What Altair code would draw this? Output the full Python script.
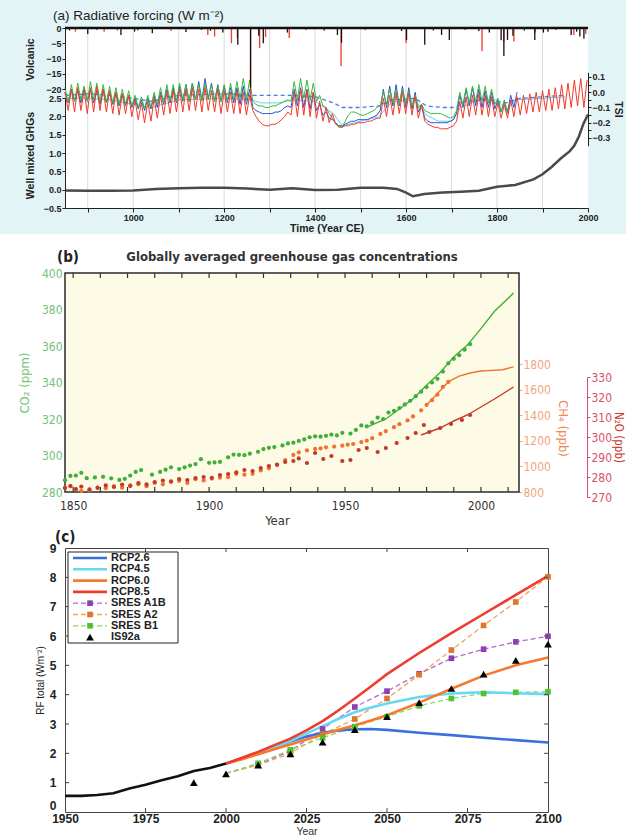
import altair as alt
import pandas as pd

# ======================= DATA =======================
# ---- Panel (a): radiative forcing ----
TSI_YEARS = list(range(850, 1999, 7))
TSI_RED = [0.00, -0.12, 0.02, -0.13, 0.03, -0.12, 0.01, -0.14, 0.03, -0.13, 0.04, -0.12, 0.02, -0.13, 0.01, -0.14, 0.00, -0.15, -0.01, -0.14, -0.02, -0.16,
           -0.05, -0.18, -0.07, -0.20, -0.06, -0.19, -0.04,
           -0.17, -0.02, -0.15, 0.00, -0.14, 0.01, -0.13, 0.02, -0.13, 0.02, -0.12, 0.03, -0.12, 0.02, -0.13, 0.03, -0.12, 0.01, -0.13, 0.02, -0.14, 0.01, -0.13, 0.00, -0.14, 0.01, -0.14, 0.00, -0.15, -0.02,
           -0.12, -0.16, -0.19, -0.21, -0.22, -0.22, -0.21, -0.21, -0.20, -0.18, -0.16, -0.13,
           -0.15, 0.00, -0.16, 0.02, -0.15, 0.01, -0.16, 0.00, -0.17,
           -0.06, -0.19, -0.10, -0.20, -0.14, -0.21,
           -0.22, -0.23, -0.22, -0.22, -0.21, -0.21, -0.20, -0.20, -0.20, -0.19, -0.19, -0.18, -0.17,
           -0.17, -0.04, -0.16, -0.02, -0.15, -0.01, -0.14, 0.00, -0.14, -0.01, -0.15, -0.03, -0.17, -0.08,
           -0.19, -0.21, -0.22, -0.23, -0.23, -0.24, -0.24, -0.24, -0.23, -0.22, -0.19,
           -0.06, -0.17, -0.03, -0.16, -0.02, -0.15, -0.01, -0.15, -0.02, -0.16, -0.03, -0.16,
           -0.07, -0.17, -0.08, -0.17, -0.05,
           -0.16, -0.03, -0.15, -0.02, -0.14, -0.01, -0.13, 0.00, -0.13, 0.01,
           -0.12, 0.02, -0.12, 0.03, -0.11, 0.05, -0.11, 0.06, -0.10, 0.08, -0.09, 0.09, -0.10, 0.08]
TSI_GREEN = [0.03, -0.07, 0.05, -0.06, 0.06, -0.05, 0.04, -0.06, 0.07, -0.05, 0.06, -0.06, 0.05, -0.07, 0.04, -0.07, 0.03, -0.08, 0.02, -0.08, 0.01, -0.09,
             -0.02, -0.10, -0.03, -0.11, -0.02, -0.10, 0.00,
             -0.08, 0.03, -0.07, 0.05, -0.06, 0.05, -0.06, 0.06, -0.05, 0.05, -0.06, 0.06, -0.05, 0.05, -0.06, 0.06, -0.05, 0.05, -0.06, 0.04, -0.06, 0.05, -0.06, 0.06, -0.05, 0.07, -0.04, 0.09, -0.05, 0.08,
             -0.06, -0.08, -0.09, -0.09, -0.10, -0.10, -0.09, -0.09, -0.08, -0.07, -0.06, -0.05,
             -0.06, 0.07, -0.05, 0.09, -0.04, 0.08, -0.05, 0.06, -0.06,
             -0.02, -0.09, -0.10, -0.14, -0.17, -0.20,
             -0.23, -0.23, -0.19, -0.15, -0.13, -0.13, -0.14, -0.15, -0.15, -0.14, -0.13, -0.12, -0.10,
             -0.09, 0.00, -0.08, 0.02, -0.07, 0.01, -0.08, 0.02, -0.07, 0.00, -0.09, -0.02, -0.10, -0.08,
             -0.12, -0.13, -0.14, -0.14, -0.14, -0.14, -0.15, -0.16, -0.17, -0.16, -0.12,
             0.00, -0.08, 0.03, -0.07, 0.04, -0.06, 0.05, -0.06, 0.04, -0.07, 0.02, -0.08,
             -0.04, -0.13, -0.05, -0.14, -0.06]
TSI_BLUE = [0.00, -0.07, 0.02, -0.06, 0.01, -0.07, 0.03, -0.06, 0.02, -0.07, 0.01, -0.08, 0.02, -0.07, 0.00, -0.08, 0.00, -0.09, -0.01, -0.09, -0.02, -0.10,
            -0.04, -0.11, -0.05, -0.12, -0.04, -0.11, -0.02,
            -0.10, 0.00, -0.08, 0.02, -0.07, 0.03, -0.07, 0.04, -0.06, 0.05, -0.06, 0.06, -0.05, 0.07, -0.05, 0.09, -0.04, 0.06, -0.06, 0.05, -0.06, 0.04, -0.07, 0.03, -0.07, 0.03, -0.08, 0.04, -0.08, 0.02,
            -0.10, -0.12, -0.13, -0.14, -0.14, -0.14, -0.14, -0.13, -0.13, -0.12, -0.10, -0.09,
            -0.10, 0.02, -0.09, 0.03, -0.10, 0.02, -0.11, 0.00, -0.12,
            -0.08, -0.15, -0.13, -0.17, -0.18, -0.20,
            -0.22, -0.22, -0.21, -0.20, -0.19, -0.19, -0.18, -0.18, -0.18, -0.18, -0.17, -0.16, -0.15,
            -0.12, 0.02, -0.10, 0.04, -0.09, 0.05, -0.09, 0.04, -0.10, 0.03, -0.11, 0.00, -0.13, -0.08,
            -0.17, -0.19, -0.20, -0.20, -0.20, -0.20, -0.20, -0.20, -0.19, -0.18, -0.14,
            -0.02, -0.10, 0.02, -0.09, 0.03, -0.09, 0.02, -0.10, 0.01, -0.10, 0.00, -0.11,
            -0.05, -0.13, -0.06, -0.13, -0.02,
            -0.10, 0.00]
TSI_CYAN_YEARS = [850, 900, 950, 1000, 1040, 1100, 1200, 1262, 1280, 1320, 1350, 1400, 1440, 1460, 1500,
                  1540, 1570, 1620, 1645, 1670, 1700, 1720, 1760, 1800, 1820, 1840, 1900, 1950]
TSI_CYAN = [-0.04, -0.04, -0.05, -0.08, -0.10, -0.05, -0.04, -0.05, -0.07, -0.07, -0.05, -0.06, -0.14, -0.22, -0.19,
            -0.16, -0.06, -0.05, -0.15, -0.19, -0.19, -0.10, -0.05, -0.05, -0.12, -0.05, -0.04, -0.03]
TSI_DASH_YEARS = [850, 900, 950, 1000, 1040, 1100, 1200, 1262, 1300, 1340, 1400, 1440, 1460, 1500, 1540,
                  1570, 1620, 1645, 1680, 1710, 1730, 1780, 1820, 1850, 1900, 1950]
TSI_DASH = [-0.02, -0.01, -0.02, -0.04, -0.06, -0.02, -0.01, -0.02, -0.02, -0.02, -0.03, -0.07, -0.10, -0.10, -0.09,
            -0.05, -0.04, -0.09, -0.10, -0.10, -0.06, -0.05, -0.07, -0.04, -0.03, -0.02]
GHG_YEARS = [850, 900, 950, 1000, 1050, 1100, 1150, 1200, 1250, 1300, 1350, 1400, 1450, 1500, 1550, 1580, 1600,
             1615, 1640, 1680, 1720, 1760, 1800, 1840, 1880, 1900, 1920, 1940, 1960, 1970, 1980, 1990, 2000]
GHG_WM2 = [-0.02, -0.03, -0.03, -0.02, 0.02, 0.04, 0.05, 0.05, 0.03, 0.00, 0.04, -0.01, 0.00, 0.05, 0.05, 0.02, -0.08,
           -0.18, -0.12, -0.08, -0.06, -0.03, 0.08, 0.13, 0.28, 0.42, 0.62, 0.85, 1.05, 1.20, 1.45, 1.80, 2.05]
VOLC_BLACK_YEARS = [860, 900, 920, 973, 1003, 1010, 1042, 1116, 1150, 1170, 1197, 1230, 1258, 1276, 1286, 1339,
                    1380, 1420, 1449, 1458, 1510, 1590, 1601, 1641, 1660, 1678, 1695, 1730, 1760, 1783, 1809,
                    1815, 1823, 1835, 1860, 1883, 1902, 1912, 1930, 1963, 1975, 1982, 1991]
VOLC_BLACK = [-0.8, -2.0, -0.6, -2.3, -1.2, -0.7, -1.7, -1.3, -0.6, -0.9, -1.5, -5.5, -19.5, -2.5, -5.0, -1.5,
              -0.6, -0.8, -2.3, -4.8, -0.6, -1.0, -3.9, -5.5, -0.8, -2.3, -3.9, -0.6, -1.0, -1.5, -4.0,
              -9.2, -3.9, -2.5, -0.8, -3.9, -1.5, -1.2, -0.6, -2.3, -1.2, -2.8, -3.5]
VOLC_RED_YEARS = [873, 936, 965, 1083, 1164, 1179, 1216, 1229, 1258, 1278, 1291, 1343, 1457, 1600, 1767,
                  1815, 1837, 1884, 1969, 1995]
VOLC_RED = [-1.2, -1.2, -0.8, -1.0, -2.3, -2.8, -5.0, -3.3, -23.5, -6.6, -3.0, -3.3, -12.5, -4.9, -7.6,
            -4.5, -4.4, -1.5, -2.3, -2.0]
A_TICKS = [900, 1000, 1100, 1200, 1300, 1400, 1500, 1600, 1700, 1800, 1900, 2000]
A_GRID = [900, 1000, 1100, 1200, 1300, 1400, 1500, 1600, 1700, 1800, 1900]

# ---- Panel (b): greenhouse gas concentrations ----
CO2_YEARS = [1847, 1849, 1851, 1853, 1855, 1858, 1861, 1864, 1867, 1869, 1871, 1873, 1875, 1879, 1882, 1884, 1886,
             1889, 1891, 1893, 1895, 1897, 1900, 1902, 1904, 1907, 1909, 1911, 1913, 1915, 1918, 1920, 1922, 1924,
             1927, 1929, 1931, 1933, 1935, 1937, 1939, 1941, 1943, 1945, 1947, 1949, 1952, 1954, 1956, 1958, 1960,
             1962, 1964, 1966, 1968, 1970, 1972, 1974, 1976, 1978, 1980, 1982, 1984, 1986, 1988, 1990, 1992, 1994, 1996]
CO2_PPM = [286.5, 288.8, 289.0, 290.5, 287.6, 288.0, 288.3, 287.5, 286.6, 287.2, 289.0, 291.0, 292.0, 289.5, 291.0,
           292.2, 293.5, 292.6, 293.5, 294.5, 295.3, 298.0, 296.0, 296.2, 296.5, 299.0, 300.5, 300.4, 300.2, 301.0,
           302.0, 303.5, 304.2, 304.6, 305.5, 306.6, 307.0, 308.0, 308.8, 310.0, 310.5, 310.3, 310.8, 311.5, 311.0,
           312.4, 312.0, 314.0, 316.5, 316.0, 318.0, 320.8, 320.0, 323.5, 324.5, 326.0, 328.0, 330.0, 332.5, 335.0,
           337.5, 340.0, 342.0, 346.0, 350.5, 353.0, 355.0, 358.0, 361.0]
CO2_LINE_YEARS = [1958, 1965, 1970, 1975, 1980, 1985, 1990, 1995, 2000, 2005, 2012]
CO2_LINE = [315.5, 320.0, 325.5, 331.0, 338.5, 345.5, 354.0, 360.5, 369.5, 379.0, 389.0]
CH4_YEARS = [1847, 1849, 1851, 1853, 1856, 1859, 1862, 1865, 1868, 1871, 1874, 1877, 1880, 1883, 1886, 1889, 1892,
             1895, 1898, 1901, 1904, 1907, 1910, 1913, 1916, 1919, 1922, 1925, 1928, 1931, 1933, 1936, 1939, 1941,
             1943, 1946, 1949, 1951, 1953, 1956, 1958, 1960, 1963, 1965, 1968, 1970, 1973, 1975, 1978, 1980, 1982,
             1984, 1986, 1988]
CH4_PPB = [834, 845, 821, 808, 813, 834, 830, 845, 834, 852, 860, 845, 871, 860, 880, 887, 871, 900, 890, 905, 912,
           916, 942, 935, 942, 968, 985, 1010, 1050, 1090, 1110, 1125, 1136, 1140, 1149, 1155, 1162, 1170, 1175, 1190,
           1201, 1220, 1254, 1275, 1306, 1330, 1359, 1390, 1438, 1480, 1517, 1560, 1622, 1660]
CH4_LINE_YEARS = [1980, 1984, 1988, 1992, 1996, 2000, 2004, 2008, 2012]
CH4_LINE = [1480, 1570, 1660, 1705, 1730, 1745, 1750, 1755, 1778]
N2O_YEARS = [1847, 1849, 1851, 1853, 1856, 1859, 1862, 1865, 1868, 1871, 1874, 1877, 1880, 1883, 1886, 1889, 1892,
             1895, 1898, 1901, 1904, 1907, 1910, 1913, 1916, 1919, 1922, 1925, 1928, 1931, 1933, 1936, 1939, 1942,
             1945, 1949, 1952, 1955, 1958, 1962, 1965, 1969, 1973, 1976, 1979, 1981, 1985, 1989, 1993, 1996]
N2O_PPB = [274.5, 275.5, 274.0, 275.2, 273.8, 274.6, 275.8, 275.0, 276.2, 275.5, 277.0, 276.3, 277.5, 278.2, 277.8,
           279.0, 278.5, 279.5, 280.0, 279.6, 281.0, 281.5, 282.3, 283.5, 283.0, 284.5, 285.5, 286.2, 287.5, 288.0,
           289.3, 287.0, 292.0, 289.0, 290.5, 288.0, 288.5, 293.5, 294.5, 292.5, 294.5, 297.0, 299.5, 302.0, 306.0,
           302.5, 304.5, 306.5, 308.5, 311.0]
N2O_LINE_YEARS = [1978, 1985, 1990, 1995, 2000, 2005, 2012]
N2O_LINE = [301.0, 304.5, 308.0, 311.0, 315.0, 319.0, 325.0]
B_TICK_YEARS = [1850, 1860, 1870, 1880, 1890, 1900, 1910, 1920, 1930, 1940, 1950, 1960, 1970, 1980, 1990, 2000, 2010]

# ---- Panel (c): total radiative forcing scenarios ----
HIST_YEARS = [1950, 1955, 1960, 1965, 1970, 1975, 1980, 1985, 1990, 1995, 2000]
HIST_RF = [0.55, 0.55, 0.58, 0.64, 0.80, 0.93, 1.08, 1.22, 1.40, 1.50, 1.65]
RCP_YEARS = [2000, 2005, 2010, 2015, 2020, 2025, 2030, 2035, 2040, 2045, 2050, 2060, 2070, 2080, 2090, 2100]
RCP26 = [1.65, 1.83, 2.00, 2.20, 2.40, 2.57, 2.70, 2.78, 2.82, 2.83, 2.80, 2.70, 2.62, 2.53, 2.45, 2.37]
RCP45 = [1.65, 1.83, 2.00, 2.20, 2.42, 2.67, 2.93, 3.18, 3.40, 3.56, 3.70, 3.92, 4.04, 4.08, 4.05, 4.02]
RCP60 = [1.65, 1.80, 1.97, 2.14, 2.30, 2.47, 2.64, 2.80, 2.96, 3.12, 3.30, 3.73, 4.20, 4.65, 5.00, 5.27]
RCP85 = [1.65, 1.85, 2.05, 2.28, 2.50, 2.78, 3.10, 3.47, 3.87, 4.28, 4.70, 5.42, 6.10, 6.75, 7.40, 8.05]
RCP_NAMES = ['RCP2.6', 'RCP4.5', 'RCP6.0', 'RCP8.5']
SRES_YEARS = [2000, 2010, 2020, 2030, 2040, 2050, 2060, 2070, 2080, 2090, 2100]
SRES_A1B = [1.32, 1.62, 2.08, 2.83, 3.58, 4.12, 4.71, 5.24, 5.55, 5.80, 5.99]
SRES_A2 = [1.32, 1.60, 2.00, 2.65, 3.17, 3.87, 4.68, 5.52, 6.36, 7.16, 8.02]
SRES_B1 = [1.32, 1.66, 2.12, 2.53, 2.91, 3.25, 3.62, 3.87, 4.04, 4.08, 4.10]
SRES_NAMES = ['SRES A1B', 'SRES A2', 'SRES B1']
IS92A_YEARS = [1990, 2000, 2010, 2020, 2030, 2040, 2050, 2060, 2070, 2080, 2090, 2100]
IS92A = [1.00, 1.30, 1.60, 1.98, 2.38, 2.81, 3.25, 3.73, 4.21, 4.70, 5.17, 5.72]
LEGEND_NAMES = ['RCP2.6', 'RCP4.5', 'RCP6.0', 'RCP8.5', 'SRES A1B', 'SRES A2', 'SRES B1', 'IS92a']
C_TICK_YEARS = [1975, 2000, 2025, 2050, 2075]
C_TICK_RF = [1, 2, 3, 4, 5, 6, 7, 8]

# ======================= STYLE =======================
FA = "'Liberation Sans', Arial, Helvetica, sans-serif"
FB = "'DejaVu Sans Condensed', 'Liberation Sans Narrow', 'Liberation Sans', sans-serif"
CYAN_BG = '#e3f4f7'
RED = '#f03a2a'
STYLE = {
    'RCP2.6': dict(color='#3b6fdc'),
    'RCP4.5': dict(color='#66d8f2'),
    'RCP6.0': dict(color='#f7792f'),
    'RCP8.5': dict(color='#f03c2e'),
    'SRES A1B': dict(color='#ad6bcc', marker='#8e3fb0'),
    'SRES A2': dict(color='#f2a35c', marker='#dc782c'),
    'SRES B1': dict(color='#8ad866', marker='#4fc230'),
}
W_A, H_A = 523, 180
W_B, H_B, TOP_B = 454, 228, 9      # panel (b) frame starts TOP_B px below its group top
W_C, H_C = 483, 264


def frame(years, vals):
    return pd.DataFrame([{'year': y, 'v': v} for y, v in zip(years, vals) if v is not None])


def one():
    return alt.Data(values=[{}])


# ======================= PANEL (a) =======================
xa_scale = alt.Scale(domain=[850, 2000], nice=False, zero=False)
xa_axis = alt.Axis(values=A_TICKS, format='d', labelExpr="datum.value % 200 == 0 ? datum.label : ''",
                   title='Time (Year CE)', titleFont=FA, titleFontSize=10.5, titleFontWeight='bold',
                   titleColor='#222', titlePadding=1, labelFont=FA, labelFontSize=9, labelFontWeight='bold',
                   labelColor='#222', labelPadding=1, labelFlush=False, tickSize=4, tickColor='#222',
                   domainColor='#222', grid=False, zindex=1)
common_a = dict(labelFont=FA, labelFontSize=9, labelFontWeight='bold', labelColor='#222', labelPadding=1,
                tickSize=3, tickColor='#222', domainColor='#222', titleFont=FA, titleFontSize=10.5,
                titleFontWeight='bold', titleColor='#222', grid=False, zindex=1)
volc_scale = alt.Scale(domain=[-20, 0], range=[61, 0], nice=False, zero=False)
volc_axis = alt.Axis(orient='left', values=[0, -5, -10, -15, -20], format='d', title='Volcanic',
                     titleX=-35, titleY=31, titleAngle=270, titleBaseline='middle', **common_a)
ghg_scale = alt.Scale(domain=[-0.5, 2.5], range=[180, 70], nice=False, zero=False)
ghg_axis = alt.Axis(orient='left', values=[-0.5, 0.0, 0.5, 1.0, 1.5, 2.0, 2.5], format='.1f',
                    title='Well mixed GHGs', titleX=-35, titleY=127, titleAngle=270, titleBaseline='middle',
                    **common_a)
tsi_scale = alt.Scale(domain=[-0.35, 0.13], range=[117.6, 44.4], nice=False, zero=False)
tsi_axis = alt.Axis(orient='right', values=[-0.3, -0.25, -0.2, -0.15, -0.1, -0.05, 0.0, 0.05, 0.1],
                    labelExpr="abs(round(datum.value*20)) % 2 == 0 ? format(datum.value, '.1f') : ''",
                    title='TSI', titlePadding=3, **common_a)


def xa():
    return alt.X('year:Q', scale=xa_scale, axis=xa_axis)


bg_a = alt.Chart(one()).mark_rect(color=CYAN_BG).encode(
    x=alt.value(-65), x2=alt.value(W_A + 38), y=alt.value(-28), y2=alt.value(H_A + 26))
white_a = alt.Chart(one()).mark_rect(color='white').encode(
    x=alt.value(0), x2=alt.value(W_A), y=alt.value(0), y2=alt.value(H_A))
grid_a = alt.Chart(pd.DataFrame({'year': A_GRID})).mark_rule(color='#dadada', strokeWidth=1).encode(x=xa())

tsi_y = alt.Y('v:Q', scale=tsi_scale, axis=tsi_axis)
tsi_defs = [
    (TSI_CYAN_YEARS, TSI_CYAN, '#5dd5f2', False),
    (TSI_DASH_YEARS, TSI_DASH, '#4a7ce6', True),
    (TSI_YEARS, TSI_BLUE, '#2e50d4', False),
    (TSI_YEARS, TSI_GREEN, '#3cb83c', False),
    (TSI_YEARS, TSI_RED, RED, False),
]
tsi_layers = []
for yrs, vals, col, dashed in tsi_defs:
    if dashed:
        m = alt.Chart(frame(yrs, vals)).mark_line(color=col, strokeWidth=1.3, strokeDash=[4, 3])
    else:
        m = alt.Chart(frame(yrs, vals)).mark_line(color=col, strokeWidth=1.0)
    tsi_layers.append(m.encode(x=xa(), y=tsi_y))
tsi = alt.layer(*tsi_layers)

ghg = alt.Chart(frame(GHG_YEARS, GHG_WM2)).mark_line(color='#4a4a4a', strokeWidth=2.5).encode(
    x=xa(), y=alt.Y('v:Q', scale=ghg_scale, axis=ghg_axis))

volc_y = alt.Y('v:Q', scale=volc_scale, axis=volc_axis)
volc_red = alt.Chart(frame(VOLC_RED_YEARS, VOLC_RED)).mark_rule(color=RED, strokeWidth=1.3).encode(
    x=xa(), y=volc_y, y2=alt.datum(0))
volc_black = alt.Chart(frame(VOLC_BLACK_YEARS, VOLC_BLACK)).mark_rule(color='#111', strokeWidth=1.3).encode(
    x=xa(), y=volc_y, y2=alt.datum(0))
volc_base = alt.Chart(one()).mark_rule(color='#111', strokeWidth=2.5).encode(
    y=alt.YDatum(0, scale=volc_scale, axis=volc_axis))
volc = alt.layer(volc_red, volc_black, volc_base)

title_a = alt.Chart(one()).mark_text(text='(a)  Radiative forcing (W m⁻²)', align='left', baseline='middle',
                                     fontSize=13.5, font=FA, color='#222').encode(
    x=alt.value(-12), y=alt.value(-12))

chart_a = alt.layer(bg_a, white_a, grid_a, tsi, ghg, volc, title_a).resolve_scale(y='independent').properties(
    width=W_A, height=H_A, view=alt.ViewBackground(strokeWidth=0))

# ======================= PANEL (b) =======================
CO2_C, CO2_LAB = '#3fae3a', '#72c276'
CH4_C, CH4_LAB, CH4_T = '#f0722e', '#f4a57c', '#f08a50'
N2O_C, N2O_LAB = '#c4392a', '#d9506a'

xb_scale = alt.Scale(domain=[1847, 2014], nice=False, zero=False)
xb_axis = alt.Axis(values=[1850, 1900, 1950, 2000], format='d', title='Year', titleX=212, titleY=28,
                   titleBaseline='middle', ticks=False, domain=False, labelFlush=False, labelFont=FB,
                   labelFontSize=12, labelColor='#333', labelPadding=8, titleFont=FB, titleFontSize=13,
                   titleFontWeight='normal', titleColor='#333', grid=False)
co2_axis = alt.Axis(orient='left', values=list(range(280, 401, 20)), format='d', title='CO₂ (ppm)',
                    ticks=False, domain=False, labelPadding=3, labelFont=FB, labelFontSize=12,
                    labelColor=CO2_LAB, titleFont=FB, titleFontSize=13, titleFontWeight='normal',
                    titleColor=CO2_LAB, titlePadding=10, grid=False)
ch4_axis = alt.Axis(orient='right', values=list(range(800, 1801, 200)), format='d', title='CH₄ (ppb)',
                    tickSize=3, tickColor=CH4_LAB, domain=False, labelPadding=1, labelFont=FB, labelFontSize=12,
                    labelColor=CH4_LAB, titleFont=FB, titleFontSize=13, titleFontWeight='normal',
                    titleColor=CH4_T, titlePadding=5, grid=False)
n2o_axis = alt.Axis(orient='right', offset=68, values=list(range(270, 331, 10)), format='d', title='N₂O (ppb)',
                    tickSize=3, tickColor=N2O_LAB, domainColor=N2O_LAB, labelPadding=1, labelFont=FB,
                    labelFontSize=12, labelColor=N2O_LAB, titleFont=FB, titleFontSize=11.5,
                    titleFontWeight='normal', titleColor=N2O_C, titlePadding=1, grid=False)
co2_y = alt.Y('v:Q', scale=alt.Scale(domain=[280, 400], range=[H_B, TOP_B], nice=False, zero=False),
              axis=co2_axis)
ch4_y = alt.Y('v:Q', scale=alt.Scale(domain=[800, 1800], range=[H_B, 100], nice=False, zero=False),
              axis=ch4_axis)
n2o_y = alt.Y('v:Q', scale=alt.Scale(domain=[270, 330], range=[233, 113], nice=False, zero=False),
              axis=n2o_axis)


def xb():
    return alt.X('year:Q', scale=xb_scale, axis=xb_axis)


frame_b = alt.Chart(one()).mark_rect(fill='#fdfbe5', stroke='#2b2b2b', strokeWidth=1.5).encode(
    x=alt.value(0), x2=alt.value(W_B), y=alt.value(TOP_B), y2=alt.value(H_B))
ticks_b = pd.DataFrame({'year': B_TICK_YEARS})
tick_b_top = alt.Chart(ticks_b).mark_rule(color='#333', strokeWidth=1.2).encode(
    x=xb(), y=alt.value(TOP_B), y2=alt.value(TOP_B + 5))
tick_b_bot = alt.Chart(ticks_b).mark_rule(color='#333', strokeWidth=1.2).encode(
    x=xb(), y=alt.value(H_B - 5), y2=alt.value(H_B))

ch4_layer = alt.layer(
    alt.Chart(frame(CH4_LINE_YEARS, CH4_LINE)).mark_line(color=CH4_C, strokeWidth=1.4).encode(x=xb(), y=ch4_y),
    alt.Chart(frame(CH4_YEARS, CH4_PPB)).mark_circle(size=18, opacity=1, color=CH4_C).encode(x=xb(), y=ch4_y))
n2o_layer = alt.layer(
    alt.Chart(frame(N2O_LINE_YEARS, N2O_LINE)).mark_line(color=N2O_C, strokeWidth=1.4).encode(x=xb(), y=n2o_y),
    alt.Chart(frame(N2O_YEARS, N2O_PPB)).mark_circle(size=18, opacity=1, color=N2O_C).encode(x=xb(), y=n2o_y))
co2_layer = alt.layer(
    alt.Chart(frame(CO2_LINE_YEARS, CO2_LINE)).mark_line(color=CO2_C, strokeWidth=1.4).encode(x=xb(), y=co2_y),
    alt.Chart(frame(CO2_YEARS, CO2_PPM)).mark_circle(size=18, opacity=1, color=CO2_C).encode(x=xb(), y=co2_y))
label_b = alt.Chart(one()).mark_text(text='(b)', align='left', baseline='middle', fontSize=15,
                                     fontWeight='bold', font=FB, color='#222').encode(
    x=alt.value(-8), y=alt.value(TOP_B - 16))
title_b = alt.Chart(one()).mark_text(text='Globally averaged greenhouse gas concentrations', align='center',
                                     baseline='middle', fontSize=13, fontWeight='bold', font=FB,
                                     color='#333').encode(
    x=alt.value(W_B / 2), y=alt.value(TOP_B - 16))

chart_b = alt.layer(frame_b, tick_b_top, tick_b_bot, ch4_layer, n2o_layer, co2_layer, label_b,
                    title_b).resolve_scale(y='independent').properties(
    width=W_B, height=H_B, view=alt.ViewBackground(strokeWidth=0))

# ======================= PANEL (c) =======================
xc_scale = alt.Scale(domain=[1950, 2100], nice=False, zero=False)
yc_scale = alt.Scale(domain=[0, 9], nice=False, zero=False)
xc_axis = alt.Axis(values=[1950, 1975, 2000, 2025, 2050, 2075, 2100], format='d', title='Year', ticks=False,
                   domain=False, labelFlush=False, labelFont=FA, labelFontSize=12, labelFontWeight='bold',
                   labelColor='#222', labelPadding=1, titleFont=FA, titleFontSize=10.5, titleFontWeight='normal',
                   titleColor='#333', titlePadding=2, grid=False)
yc_axis = alt.Axis(values=list(range(10)), format='d', title='RF total (Wm⁻²)', ticks=False, domain=False,
                   labelFont=FA, labelFontSize=12, labelFontWeight='bold', labelColor='#222', labelPadding=9,
                   labelBaseline={'condition': {'test': 'datum.value == 0', 'value': 'bottom'},
                                  'value': 'middle'},
                   titleFont=FA, titleFontSize=10, titleFontWeight='normal', titleColor='#222', titlePadding=4,
                   grid=False)


def xc():
    return alt.X('year:Q', scale=xc_scale, axis=xc_axis)


def yc():
    return alt.Y('v:Q', scale=yc_scale, axis=yc_axis)


layers_c = []
for name, vals in zip(SRES_NAMES, [SRES_A1B, SRES_A2, SRES_B1]):
    layers_c.append(alt.Chart(frame(SRES_YEARS, vals)).mark_line(
        color=STYLE[name]['color'], strokeWidth=1.3, strokeDash=[5, 3]).encode(x=xc(), y=yc()))
for name, vals in zip(RCP_NAMES, [RCP26, RCP45, RCP60, RCP85]):
    layers_c.append(alt.Chart(frame(RCP_YEARS, vals)).mark_line(
        color=STYLE[name]['color'], strokeWidth=2.6).encode(x=xc(), y=yc()))
layers_c.append(alt.Chart(frame(HIST_YEARS, HIST_RF)).mark_line(color='#111', strokeWidth=2.6).encode(
    x=xc(), y=yc()))
for name, vals in zip(SRES_NAMES, [SRES_A1B, SRES_A2, SRES_B1]):
    layers_c.append(alt.Chart(frame(SRES_YEARS[1:], vals[1:])).mark_square(
        size=32, opacity=1, color=STYLE[name]['marker']).encode(x=xc(), y=yc()))
layers_c.append(alt.Chart(frame(IS92A_YEARS, IS92A)).mark_point(
    shape='triangle-up', filled=True, size=60, opacity=1, color='#000').encode(x=xc(), y=yc()))

ticks_cx = pd.DataFrame({'year': C_TICK_YEARS})
ticks_cy = pd.DataFrame({'v': C_TICK_RF})
layers_c += [
    alt.Chart(ticks_cx).mark_rule(color='#444').encode(x=xc(), y=alt.value(0), y2=alt.value(4)),
    alt.Chart(ticks_cx).mark_rule(color='#444').encode(x=xc(), y=alt.value(H_C - 4), y2=alt.value(H_C)),
    alt.Chart(ticks_cy).mark_rule(color='#444').encode(y=yc(), x=alt.value(W_C - 4), x2=alt.value(W_C)),
    alt.Chart(ticks_cy).mark_rule(color='#444').encode(y=yc(), x=alt.value(0), x2=alt.value(4)),
]

# legend box
layers_c.append(alt.Chart(one()).mark_rect(fill='white', stroke='#222', strokeWidth=1).encode(
    x=alt.value(3), x2=alt.value(113), y=alt.value(4), y2=alt.value(95)))
for i, name in enumerate(LEGEND_NAMES):
    yy = 10 + 11.3 * i
    if name in RCP_NAMES:
        layers_c.append(alt.Chart(one()).mark_rule(color=STYLE[name]['color'], strokeWidth=2.6).encode(
            x=alt.value(8), x2=alt.value(42), y=alt.value(yy)))
    elif name in SRES_NAMES:
        layers_c.append(alt.Chart(one()).mark_rule(color=STYLE[name]['color'], strokeWidth=1.3,
                                                   strokeDash=[5, 3]).encode(
            x=alt.value(8), x2=alt.value(42), y=alt.value(yy)))
        layers_c.append(alt.Chart(one()).mark_square(size=32, opacity=1, color=STYLE[name]['marker']).encode(
            x=alt.value(25), y=alt.value(yy)))
    else:
        layers_c.append(alt.Chart(one()).mark_point(shape='triangle-up', filled=True, size=60, opacity=1,
                                                    color='#000').encode(x=alt.value(25), y=alt.value(yy)))
    layers_c.append(alt.Chart(one()).mark_text(text=name, align='left', baseline='middle', fontSize=11,
                                               fontWeight='bold', font=FA, color='#222').encode(
        x=alt.value(46), y=alt.value(yy)))
layers_c.append(alt.Chart(one()).mark_text(text='(c)', align='left', baseline='middle', fontSize=15,
                                           fontWeight='bold', font=FB, color='#222').encode(
    x=alt.value(-10), y=alt.value(-11)))

chart_c = alt.layer(*layers_c).properties(
    width=W_C, height=H_C, view=alt.ViewBackground(fill='white', stroke='#444', strokeWidth=1))

# ======================= LAYOUT =======================
chart = alt.vconcat(chart_a, chart_b, chart_c, spacing=56, bounds='flush').properties(
    padding=0, background='white', autosize=alt.AutoSizeParams(type='pad'))

chart.save('out.html', embed_options={'renderer': 'svg', 'actions': False})
